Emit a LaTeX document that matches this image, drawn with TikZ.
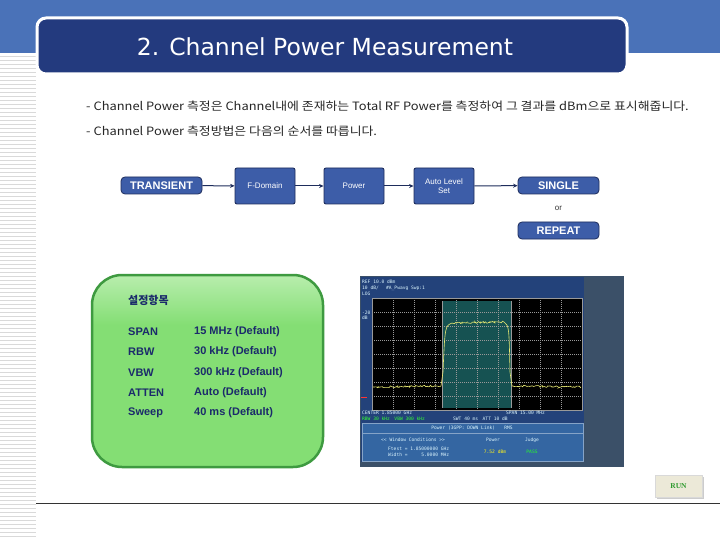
\documentclass[tikz,border=0pt]{standalone}
\usepackage{fontspec}
\setmainfont{Liberation Sans}
\newfontfamily\kr{Noto Sans CJK KR}
\newfontfamily\titlefont{DejaVu Sans}
\newfontfamily\scr{DejaVu Sans Mono}
\usetikzlibrary{arrows.meta,decorations.pathmorphing}
\definecolor{bandblue}{HTML}{4A72B8}
\definecolor{navy}{HTML}{233A7E}
\definecolor{boxfill}{HTML}{3D5DA8}
\definecolor{boxline}{HTML}{1E2D5C}
\definecolor{txtnavy}{HTML}{1B2A6B}
\definecolor{greenline}{HTML}{3E9A40}
\definecolor{greentop}{HTML}{D4F6CC}
\definecolor{greenmid}{HTML}{84DE74}
\definecolor{greenbot}{HTML}{A8EA9E}
\definecolor{scrbg}{HTML}{23427A}
\definecolor{scrout}{HTML}{3B5068}
\definecolor{panel}{HTML}{3466A2}
\definecolor{teal}{HTML}{165252}
\definecolor{trace}{HTML}{E6E872}
\definecolor{runbg}{HTML}{ECE9D8}
\definecolor{rungreen}{HTML}{2E9A2E}
\pgfdeclareverticalshading{greenboxshade}{100bp}{color(0bp)=(greenbot); color(8bp)=(greenmid); color(62bp)=(greenmid); color(82bp)=(greentop); color(100bp)=(greentop)}
\tikzset{
  flowpill/.style={draw=boxline, line width=0.8pt, fill=boxfill, rounded corners=4pt,
    minimum width=81pt, minimum height=17pt, inner sep=0pt, text=white,
    font=\fontsize{11}{12}\selectfont\bfseries},
  flowbox/.style={draw=boxline, line width=0.9pt, fill=boxfill, rounded corners=2pt,
    minimum width=60pt, minimum height=36pt, inner sep=0pt, text=white, align=center,
    font=\fontsize{8}{9.5}\selectfont},
  flowarrow/.style={draw=boxline, line width=1pt, -{Stealth[length=4.5pt,width=4pt]}},
  bodytext/.style={anchor=west, inner sep=0pt, text=black!85, font=\kr\fontsize{11.5}{13}\selectfont},
  setlabel/.style={anchor=west, inner sep=0pt, text=txtnavy, font=\fontsize{11}{12}\selectfont\bfseries},
  scrtxt/.style={inner sep=0pt, text=white!85!cyan, font=\scr\fontsize{4.6}{5}\selectfont},
  noise/.style={draw=trace, line width=0.6pt, decorate,
    decoration={random steps, segment length=1.2pt, amplitude=0.9pt}},
}
\begin{document}
\begin{tikzpicture}[x=1pt,y=-1pt]
\useasboundingbox (0,0) rectangle (720,540);
\fill[white] (0,0) rectangle (720,540);
% top band
\fill[bandblue] (0,0) rectangle (720,53);
% left stripes
\foreach \yy in {56,60,...,538} \draw[black!15, line width=0.8pt] (0,\yy) -- (36,\yy);
% title box
\draw[white, line width=3pt, fill=navy, rounded corners=9pt] (37,18) rectangle (627,74);
\node[text=white, font=\titlefont\fontsize{23.5}{26}\selectfont] (title) at (325,47) {2. Channel Power Measurement};
% body text
\node[bodytext] (line1) at (86,106) {\scalebox{1.12}[1]{- Channel Power 측정은 Channel내에 존재하는 Total RF Power를 측정하여 그 결과를 dBm으로 표시해줍니다.}};
\node[bodytext] (line2) at (86,131) {\scalebox{1.12}[1]{- Channel Power 측정방법은 다음의 순서를 따릅니다.}};
% flow
\node[flowpill] (trans) at (161.5,185.5) {TRANSIENT};
\node[flowbox] (fdom) at (265,186) {F-Domain};
\node[flowbox] (power) at (354,186) {Power};
\node[flowbox] (auto) at (444,186) {Auto Level\\Set};
\node[flowpill] (single) at (558.5,185.5) {SINGLE};
\node[inner sep=0pt, font=\fontsize{8}{9}\selectfont, text=black!80] (or) at (558.5,208) {or};
\node[flowpill] (repeat) at (558.5,230.5) {REPEAT};
\draw[flowarrow] (trans) -- (fdom);
\draw[flowarrow] (fdom) -- (power);
\draw[flowarrow] (power) -- (auto);
\draw[flowarrow] (auto) -- (single);
% green settings box
\shade[shading=greenboxshade, rounded corners=30pt] (92,275) rectangle (323,467);
\draw[greenline, line width=2.5pt, rounded corners=30pt] (92,275) rectangle (323,467);
\node[setlabel, font=\kr\fontsize{11}{12}\selectfont\bfseries] (sethead) at (128,300) {설정항목};
\node[setlabel] (l1) at (128,332) {SPAN};
\node[setlabel] (v1) at (194,332) {15 MHz (Default)};
\node[setlabel] (l2) at (128,352) {RBW};
\node[setlabel] (v2) at (194,352) {30 kHz (Default)};
\node[setlabel] (l3) at (128,373) {VBW};
\node[setlabel] (v3) at (194,373) {300 kHz (Default)};
\node[setlabel] (l4) at (128,393) {ATTEN};
\node[setlabel] (v4) at (194,393) {Auto (Default)};
\node[setlabel] (l5) at (128,413) {Sweep};
\node[setlabel] (v5) at (194,413) {40 ms (Default)};
% screenshot
\fill[scrout] (360,276) rectangle (624,467);
\fill[scrbg] (361,277) rectangle (584,462);
\fill[black] (372,298) rectangle (582,410);
\fill[teal] (442,301) rectangle (511,408);
\draw[black!40, line width=0.4pt] (442,301) -- (442,408) (511,301) -- (511,408);
\draw[black!40, line width=0.4pt] (372,298) rectangle (582,410);
\foreach \k in {1,...,9} \draw[white!60!black, line width=0.25pt, dash pattern=on 1pt off 1pt] (372+21*\k,298) -- (372+21*\k,410);
\foreach \k in {1,...,7} \draw[white!60!black, line width=0.25pt, dash pattern=on 1pt off 1pt] (372,298+14*\k) -- (582,298+14*\k);
\draw[noise] (373,387) -- (441,386);
\draw[noise] (452,323) -- (504,322);
\draw[noise] (512,386) -- (581,387);
\draw[trace, line width=0.6pt] (441,386) -- (443,372) .. controls (445,326) .. (452,323);
\draw[trace, line width=0.6pt] (504,322) .. controls (509,326) .. (510,372) -- (512,386);
\draw[red!80, line width=1pt] (361,397) -- (367,397);
\node[scrtxt, anchor=west] (s1) at (362,282) {REF 10.0 dBm};
\node[scrtxt, anchor=west] (s2) at (362,288) {10 dB/\quad\ \#A\_Pwavg Swp:1};
\node[scrtxt, anchor=west] (s3) at (362,294) {LOG};
\node[scrtxt, anchor=west] (s4) at (362,313) {-20};
\node[scrtxt, anchor=west] (s4b) at (362,318) {dB};
\node[scrtxt, anchor=west] (s5) at (362,413) {CENTER 1.85000 GHz};
\node[scrtxt, anchor=west] (s6) at (506,413) {SPAN 15.00 MHz};
\node[scrtxt, anchor=west, text=green!80!white] (s7) at (362,419) {RBW 30 kHz\quad VBW 300 kHz};
\node[scrtxt, anchor=west] (s8) at (453,419) {SWT 40 ms\quad ATT 10 dB};
\draw[panel!60!white, line width=0.5pt, fill=panel] (362,423) rectangle (583,461);
\draw[panel!60!white, line width=0.4pt] (362,433) -- (583,433);
\node[scrtxt] (s9) at (472,428) {Power (3GPP: DOWN Link)\qquad RMS};
\node[scrtxt, anchor=west] (s10) at (381,440) {<< Window Conditions >>};
\node[scrtxt] (s11) at (493,440) {Power};
\node[scrtxt] (s12) at (532,440) {Judge};
\node[scrtxt, anchor=west] (s13) at (388,449) {Ftest = 1.85000000 GHz};
\node[scrtxt, anchor=west] (s14) at (388,455) {Width =\ \ \ \ \ 5.0000 MHz};
\node[scrtxt, text=yellow!90!white] (s15) at (495,452) {7.52 dBm};
\node[scrtxt, text=green!85!white] (s16) at (532,452) {PASS};
% bottom line
\draw[black!80, line width=0.8pt] (36,503) -- (720,503);
% RUN button
\fill[black!20] (657,477) rectangle (704,499);
\node[draw=black!15, fill=runbg, minimum width=47pt, minimum height=22pt, inner sep=0pt,
  text=rungreen, font=\fontspec{Liberation Serif}\fontsize{7.5}{8}\selectfont\bfseries] (run) at (678.5,486) {RUN};
\end{tikzpicture}
\end{document}
